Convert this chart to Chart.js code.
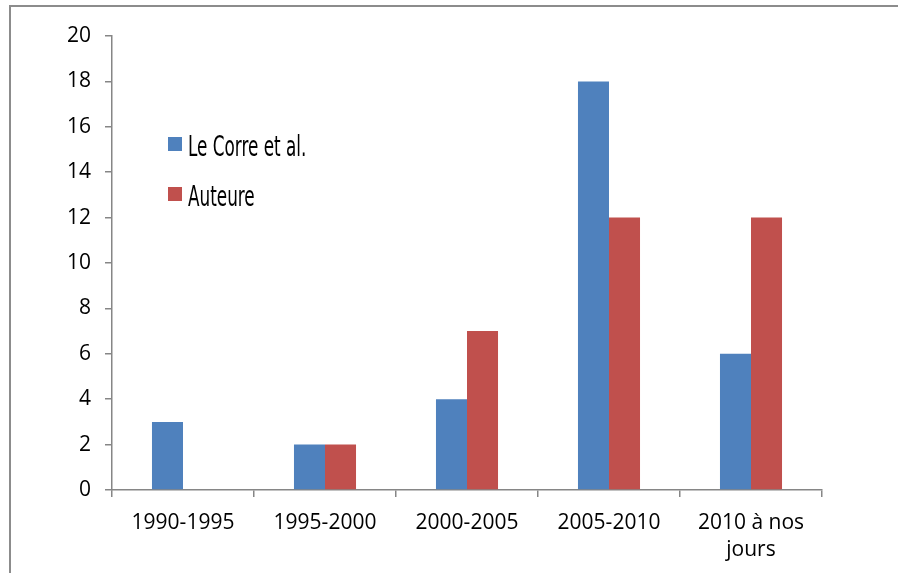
<!DOCTYPE html>
<html>
<head>
<meta charset="utf-8">
<script src="https://cdn.jsdelivr.net/npm/chart.js@4"></script>
<style>
    html, body { margin: 0; padding: 0; background: #fff; }
    #wrap { position: relative; width: 898px; height: 573px; overflow: hidden; }
    #frame { position: absolute; left: 9px; top: 5px; width: 1000px; height: 1000px;
             border-left: 2px solid #8c8c8c; border-top: 2px solid #8c8c8c; }
    canvas { position: absolute; left: 0; top: 0; }
</style>
</head>
<body>
<div id="wrap">
    <div id="frame"></div>
    <canvas id="barChart" width="898" height="573"></canvas>
</div>
<script>
const categories = ["1990-1995", "1995-2000", "2000-2005", "2005-2010", ["2010 à nos", "jours"]];
const leCorre = [3, 2, 4, 18, 6];
const auteure = [null, 2, 7, 12, 12];
const seriesNames = ["Le Corre et al.", "Auteure"];
const seriesColors = ["#4F81BD", "#C0504D"];

// legend drawn inside the plot, narrow font like the original
const insideLegend = {
    id: "insideLegend",
    afterDraw(chart) {
        const ctx = chart.ctx;
        const rows = [{ y: 137 }, { y: 187 }];
        ctx.save();
        rows.forEach((r, i) => {
            ctx.fillStyle = seriesColors[i];
            ctx.fillRect(168, r.y, 14, 14);
            ctx.save();
            ctx.translate(188, r.y + 19);
            ctx.scale(0.72, 1.08);
            ctx.font = '26px "DejaVu Sans Condensed", "DejaVu Sans"';
            ctx.fillStyle = "#000";
            ctx.textBaseline = "alphabetic";
            ctx.fillText(seriesNames[i], 0, 0);
            ctx.restore();
        });
        ctx.restore();
    }
};

const ctx = document.getElementById("barChart").getContext("2d");
new Chart(ctx, {
    type: "bar",
    data: {
        labels: categories,
        datasets: [
            { label: seriesNames[0], data: leCorre, backgroundColor: seriesColors[0] },
            { label: seriesNames[1], data: auteure, backgroundColor: seriesColors[1] }
        ]
    },
    options: {
        responsive: false,
        animation: false,
        categoryPercentage: 0.437,
        barPercentage: 1,
        layout: { padding: { top: 36, right: 76, left: 0, bottom: 0 } },
        plugins: { legend: { display: false }, tooltip: { enabled: false } },
        scales: {
            x: {
                afterFit: s => { s.height = 83; },
                grid: { offset: true, drawOnChartArea: false, tickLength: 7, color: "#868686", lineWidth: 1.5 },
                border: { color: "#868686", width: 1.5 },
                ticks: {
                    color: "#000",
                    padding: 12,
                    maxRotation: 0,
                    font: { family: '"Open Sans"', size: 21, lineHeight: 1.3 }
                }
            },
            y: {
                min: 0,
                max: 20,
                afterFit: s => { s.width = 112; },
                grid: { drawOnChartArea: false, tickLength: 7, color: "#868686", lineWidth: 1.5 },
                border: { color: "#868686", width: 1.5 },
                ticks: {
                    stepSize: 2,
                    color: "#000",
                    padding: 14,
                    font: { family: '"Open Sans"', size: 21 }
                }
            }
        }
    },
    plugins: [insideLegend]
});
</script>
</body>
</html>
